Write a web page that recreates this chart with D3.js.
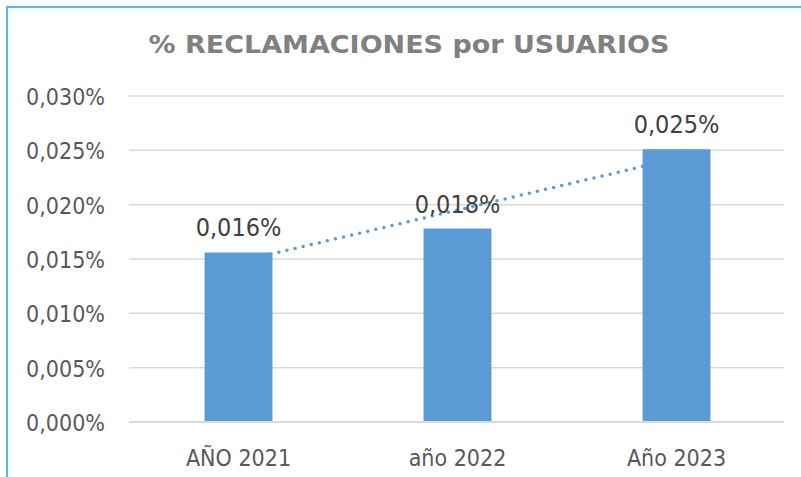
<!DOCTYPE html>
<html><head><meta charset="utf-8">
<script src="https://cdn.jsdelivr.net/npm/d3@7"></script>
<style>body{margin:0;background:#fff;} svg{display:block;}</style>
</head><body>
<svg id="c" width="801" height="477"></svg>
<script>
const title = "% RECLAMACIONES por USUARIOS";
const categories = ["AÑO 2021", "año 2022", "Año 2023"];
const values = [0.0156, 0.0178, 0.0251];           // percent values
const yTicks = [0, 0.005, 0.010, 0.015, 0.020, 0.025, 0.030];

const fmt = v => d3.format(".3f")(v).replace(".", ",") + "%";

const svg = d3.select("#c");
const W = 801, H = 477;
const FONT = "'DejaVu Sans', sans-serif";
const SX = 0.9;

// chart frame
svg.append("path")
  .attr("d", `M7,${H + 5} L7,7 L${W + 5},7`)
  .attr("fill", "none").attr("stroke", "#4dbde9").attr("stroke-width", 2);

const x = d3.scaleBand().domain(categories).range([129, 786]).paddingInner(0.69).paddingOuter(0.345);
const y = d3.scaleLinear().domain([0, 0.030]).range([422, 96]);

function ctext(g, px, py, txt, opts) {
  return g.append("text")
    .attr("transform", `translate(${px},${py}) scale(${opts.sx || SX},1)`)
    .attr("text-anchor", opts.anchor || "middle")
    .attr("font-family", FONT)
    .attr("font-size", opts.size)
    .attr("font-weight", opts.weight || "normal")
    .attr("fill", opts.fill)
    .text(txt);
}

// gridlines
const grid = svg.append("g");
grid.selectAll("line").data(yTicks.filter(t => t > 0)).join("line")
  .attr("x1", 129).attr("x2", 784)
  .attr("y1", d => y(d)).attr("y2", d => y(d))
  .attr("stroke", "#d9d9d9").attr("stroke-width", 1.5);

// y tick labels
const yl = svg.append("g");
yTicks.forEach(t => ctext(yl, 105, y(t) + 9, fmt(t), {size: 23, anchor: "end", fill: "#595959"}));

// trendline (linear least squares on category index)
const n = values.length;
const xs = values.map((_, i) => i + 1);
const mx = d3.mean(xs), my = d3.mean(values);
const slope = d3.sum(xs.map((xi, i) => (xi - mx) * (values[i] - my))) / d3.sum(xs.map(xi => (xi - mx) ** 2));
const icpt = my - slope * mx;
const trendPts = [1, n].map(i => [x(categories[i - 1]) + x.bandwidth() / 2, y(icpt + slope * i)]);

// bars
svg.append("g").selectAll("rect").data(values).join("rect")
  .attr("x", (d, i) => x(categories[i]))
  .attr("y", d => y(d))
  .attr("width", x.bandwidth())
  .attr("height", d => y(0) - y(d))
  .attr("fill", "#5b9bd5");

svg.append("path")
  .attr("d", d3.line()(trendPts))
  .attr("fill", "none").attr("stroke", "#5b9bd5").attr("stroke-width", 3.5)
  .attr("stroke-linecap", "round").attr("stroke-dasharray", "0 8.3");

// axis baseline
svg.append("line").attr("x1", 129).attr("x2", 784).attr("y1", y(0)).attr("y2", y(0))
  .attr("stroke", "#d9d9d9").attr("stroke-width", 2);

// data labels
const dl = svg.append("g");
values.forEach((v, i) => ctext(dl, x(categories[i]) + x.bandwidth() / 2, y(v) - 16, fmt(v), {size: 25, fill: "#404040"}));

// category labels
const cl = svg.append("g");
categories.forEach(c => ctext(cl, x(c) + x.bandwidth() / 2, 466, c, {size: 23, fill: "#595959"}));

// title
ctext(svg, 409, 53, title, {size: 25, weight: "bold", fill: "#808080", sx: 1.08});
</script>
</body></html>
